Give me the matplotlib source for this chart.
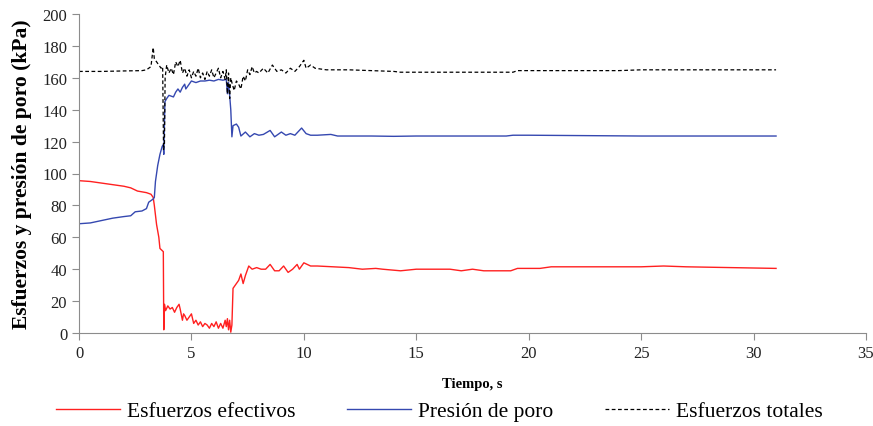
import matplotlib
matplotlib.use("Agg")
import matplotlib.pyplot as plt

# --- data ---
t_tot = [0, 1, 2, 2.8, 3.0, 3.2, 3.3, 3.35, 3.45, 3.55, 3.65, 3.72, 3.76, 3.8, 3.83, 3.9,
         4.0, 4.1, 4.2, 4.3, 4.4, 4.5, 4.6, 4.7, 4.8, 4.9, 5.0, 5.1, 5.2, 5.3, 5.4, 5.5,
         5.6, 5.7, 5.8, 5.9, 6.0, 6.1, 6.2, 6.3, 6.4, 6.5, 6.55, 6.6, 6.65, 6.7, 6.75,
         6.8, 6.9, 7.0, 7.1, 7.2, 7.3, 7.4, 7.5, 7.6, 7.7, 7.8, 7.9, 8.0, 8.2, 8.4, 8.6,
         8.8, 9.0, 9.2, 9.4, 9.6, 9.8, 10.0, 10.1, 10.3, 10.5, 11, 12, 13, 14, 14.3, 16,
         18, 19.3, 19.5, 21, 24, 25, 28, 31]
totales = [164, 164, 164.3, 164.5, 165, 167, 179, 172, 170, 168, 166, 167, 115, 118, 160, 168,
           163, 166, 162, 170, 167, 171, 163, 166, 161, 165, 160, 164, 161, 166, 160, 163,
           159, 164, 161, 165, 160, 163, 166, 160, 164, 159, 165, 150, 163, 147, 160,
           157, 152, 158, 156, 153, 161, 158, 165, 162, 167, 163, 164, 163, 166, 163, 168,
           164, 165, 163, 166, 164, 167, 171, 166, 168, 166, 165, 165, 164.5, 164, 163.5, 163.5,
           163.5, 163.5, 164.5, 164.5, 164.5, 165, 165, 165]

t_poro = [0, 0.5, 1.0, 1.5, 2.0, 2.3, 2.5, 2.8, 3.0, 3.1, 3.3, 3.35, 3.4, 3.5, 3.6, 3.7,
          3.75, 3.77, 3.82, 3.9, 4.0, 4.2, 4.3, 4.4, 4.5, 4.6, 4.7, 4.75, 4.9, 5.0, 5.2,
          5.4, 5.6, 5.8, 6.0, 6.2, 6.4, 6.55, 6.6, 6.65, 6.7, 6.75, 6.8, 6.85, 7.0, 7.1,
          7.2, 7.4, 7.6, 7.8, 8.0, 8.2, 8.5, 8.7, 9.0, 9.2, 9.4, 9.6, 9.9, 10.1, 10.3,
          10.6, 11.2, 11.5, 13, 14, 15, 17, 19, 19.3, 20, 22, 25, 28, 31]
poro = [68.5, 69, 70.5, 72, 73, 73.5, 76, 76.5, 78, 82, 84, 85, 95, 105, 112, 117,
        118, 112, 145, 147, 149, 148, 151, 153, 151, 154, 156, 153, 156, 158, 157,
        158, 158, 158.5, 158, 159, 158.5, 159, 150, 157, 149, 140, 123, 130, 131, 129,
        123.5, 126, 123, 125, 124, 124.5, 127, 123, 126, 124, 125, 124, 128.5, 125, 124,
        124, 124.5, 123.5, 123.5, 123.3, 123.5, 123.5, 123.5, 124, 124, 123.8, 123.5, 123.5, 123.5]

t_efec = [0, 0.5, 1, 1.5, 2.0, 2.3, 2.6, 3.0, 3.2, 3.3, 3.35, 3.45, 3.55, 3.6, 3.75, 3.77,
          3.8, 3.85, 3.95, 4.05, 4.15, 4.25, 4.35, 4.45, 4.5, 4.6, 4.65, 4.7, 4.8, 4.9,
          5.0, 5.1, 5.2, 5.3, 5.4, 5.5, 5.6, 5.7, 5.8, 5.9, 6.0, 6.1, 6.2, 6.3, 6.4, 6.5,
          6.55, 6.6, 6.65, 6.7, 6.75, 6.8, 6.85, 6.95, 7.1, 7.2, 7.3, 7.4, 7.55, 7.7, 7.9,
          8.1, 8.3, 8.5, 8.7, 8.9, 9.1, 9.3, 9.5, 9.7, 9.8, 10.0, 10.3, 10.6, 11.3, 12,
          12.6, 13.2, 13.5, 14.3, 15, 16.5, 17, 17.5, 18, 19.2, 19.5, 20.5, 21, 25, 26,
          27, 29, 31]
efectivos = [95.5, 95, 94, 93, 92, 91, 89, 88, 87, 85, 80, 68, 60, 53, 51, 2,
             18, 14, 17, 15, 16, 13, 16, 18, 15, 8, 12, 11, 8, 10,
             12, 6, 8, 5, 7, 4, 6, 5, 3, 6, 4, 7, 3, 6, 3, 8,
             4, 9, 2, 8, 0.5, 5, 28, 30, 33, 37, 31, 36, 42, 40, 41,
             40, 40, 43, 39, 39, 42, 38, 40, 43, 40, 44, 42, 42, 41.5, 41,
             40, 40.5, 40, 39, 40, 40, 39, 40, 39, 39, 40.5, 40.5, 41.5, 41.5, 42,
             41.5, 41, 40.5]

labels = ["Esfuerzos efectivos", "Presión de poro", "Esfuerzos totales"]
x_ticks = [0, 5, 10, 15, 20, 25, 30, 35]
y_ticks = [0, 20, 40, 60, 80, 100, 120, 140, 160, 180, 200]

plt.rcParams['font.family'] = ['Liberation Serif', 'DejaVu Serif']

fig = plt.figure(figsize=(8.73, 4.27), dpi=100)
ax = fig.add_axes([79/873, 1-334/427, (866-79)/873, (334-15)/427])

l1, = ax.plot(t_efec, efectivos, color='#FF2020', lw=1.0)
l2, = ax.plot(t_poro, poro, color='#3548B0', lw=1.0)
l3, = ax.plot(t_tot, totales, color='black', lw=0.9, linestyle=(0, (3, 2)))

ax.set_xlim(0, 35)
ax.set_ylim(0, 200)
ax.set_xticks(x_ticks)
ax.set_yticks(y_ticks)
for s in ['top', 'right']:
    ax.spines[s].set_visible(False)
for s in ['left', 'bottom']:
    ax.spines[s].set_color('#8c8c8c')
ax.tick_params(axis='both', colors='#8c8c8c', labelcolor='#222222', labelsize=12, length=5, width=0.8)

ax.set_xlabel("Tiempo, s", fontsize=10.5, fontweight='bold', labelpad=12)
ax.set_ylabel("Esfuerzos y presión de poro (kPa)", fontsize=15.5, fontweight='bold', labelpad=7)

fig.legend([l1, l2, l3], labels, loc='center', bbox_to_anchor=(439/873, 15/427), ncol=3,
           frameon=False, fontsize=15.5, handlelength=3.0, handletextpad=0.3,
           columnspacing=2.4)

fig.savefig("out.png", dpi=100)
